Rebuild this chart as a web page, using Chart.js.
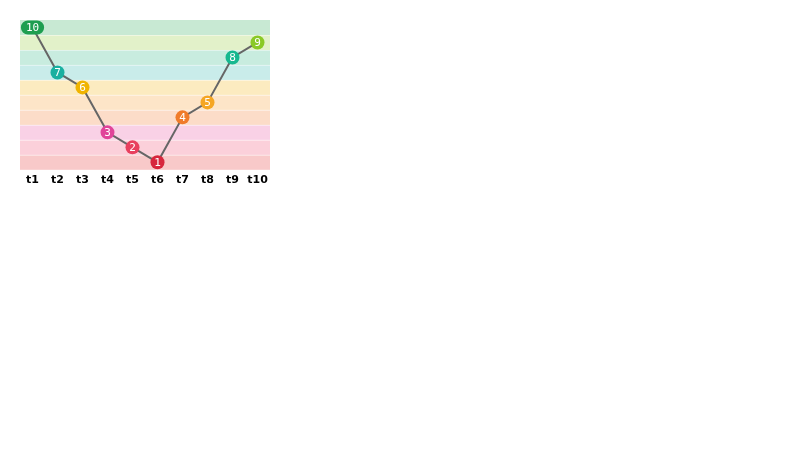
<!DOCTYPE html>
<html>
<head>
<meta charset="utf-8">
<script src="https://cdn.jsdelivr.net/npm/chart.js@4/dist/chart.umd.min.js"></script>
<style>
  html, body { margin: 0; padding: 0; background: #fff; }
  #wrap { position: absolute; left: 0; top: 0; width: 290px; height: 195px; }
</style>
</head>
<body>
<div id="wrap"><canvas id="c"></canvas></div>
<script>
const labels = ['t1','t2','t3','t4','t5','t6','t7','t8','t9','t10','t11'];
const values = [10, 7, 6, 3, 2, 1, 4, 5, 8, 9, 9];
const levels = [1,2,3,4,5,6,7,8,9,10];
const levelColors = ['#d7263d','#e8405e','#e0449a','#f07b2a','#f5a623','#f0b400','#1ab0a0','#17b890','#8ac926','#1e9e50'];
const bandColors = ['#f8c9c9','#fbd0da','#f9d1e6','#fcdcc8','#fde5c8','#fcebc0','#c9ecea','#c8ecdf','#e2f1c9','#c8e9d3'];

function colorFor(v){ return levelColors[levels.indexOf(v)]; }

const bandsPlugin = {
  id: 'bands',
  beforeDatasetsDraw(chart){
    const {ctx, chartArea, scales:{y}} = chart;
    ctx.save();
    levels.forEach((lv, i) => {
      const top = y.getPixelForValue(lv + 0.5);
      const bot = y.getPixelForValue(lv - 0.5);
      ctx.fillStyle = bandColors[i];
      ctx.fillRect(chartArea.left, top, chartArea.right - chartArea.left, bot - top);
    });
    ctx.strokeStyle = 'rgba(255,255,255,0.45)';
    ctx.lineWidth = 1;
    levels.slice(0, -1).forEach(lv => {
      const yy = Math.round(y.getPixelForValue(lv + 0.5)) + 0.5;
      ctx.beginPath(); ctx.moveTo(chartArea.left, yy); ctx.lineTo(chartArea.right, yy); ctx.stroke();
    });
    ctx.restore();
  }
};

const labelPlugin = {
  id: 'pointLabels',
  afterDatasetsDraw(chart){
    const {ctx, chartArea} = chart;
    const meta = chart.getDatasetMeta(0);
    ctx.save();
    ctx.font = '11px "DejaVu Sans Mono"';
    ctx.textAlign = 'center';
    ctx.textBaseline = 'middle';
    meta.data.forEach((pt, i) => {
      if (pt.x < chartArea.left - 1 || pt.x > chartArea.right + 1) return;
      const v = values[i];
      const txt = String(v);
      const tw = ctx.measureText(txt).width;
      const h = 14;
      const w = txt.length > 1 ? tw + 10 : h;
      const x0 = pt.x - w / 2, y0 = pt.y - h / 2, r = h / 2;
      ctx.fillStyle = colorFor(v);
      ctx.beginPath();
      ctx.moveTo(x0 + r, y0);
      ctx.lineTo(x0 + w - r, y0);
      ctx.arc(x0 + w - r, y0 + r, r, -Math.PI/2, Math.PI/2);
      ctx.lineTo(x0 + r, y0 + h);
      ctx.arc(x0 + r, y0 + r, r, Math.PI/2, Math.PI*1.5);
      ctx.closePath();
      ctx.fill();
      ctx.fillStyle = '#ffffff';
      ctx.fillText(txt, pt.x, pt.y + 0.5);
    });
    ctx.restore();
  }
};

new Chart(document.getElementById('c'), {
  type: 'line',
  data: {
    labels: labels,
    datasets: [{
      data: values,
      borderColor: '#666666',
      borderWidth: 2,
      pointRadius: 0,
      tension: 0,
      fill: false
    }]
  },
  options: {
    responsive: true,
    maintainAspectRatio: false,
    animation: false,
    layout: { padding: { left: 20, top: 20, right: 20, bottom: 4 } },
    plugins: { legend: { display: false }, tooltip: { enabled: false } },
    scales: {
      y: { display: false, min: 0.5, max: 10.5 },
      x: {
        max: 't10',
        offset: true,
        grid: { display: false, drawTicks: false },
        border: { display: false },
        ticks: { color: '#000', padding: 4, maxRotation: 0, minRotation: 0, autoSkip: false,
                 font: { family: 'DejaVu Sans', weight: 'bold', size: 11 } }
      }
    }
  },
  plugins: [bandsPlugin, labelPlugin]
});
</script>
</body>
</html>
